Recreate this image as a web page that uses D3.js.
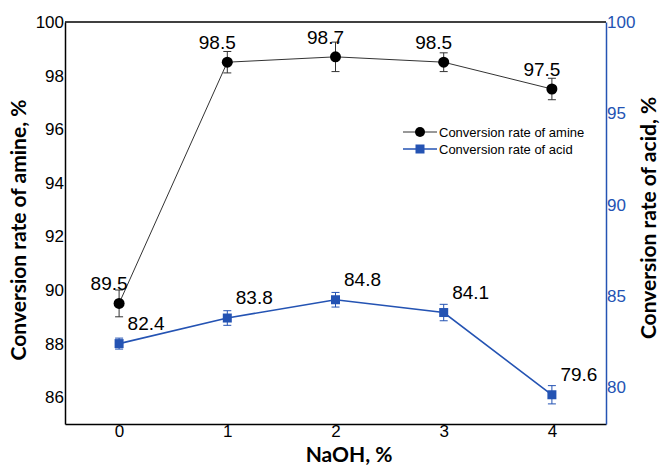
<!DOCTYPE html>
<html>
<head>
<meta charset="UTF-8">
<title></title>
<style>
  body { margin: 0; background: #fff; }
  .tick-lbl { font-family: "Liberation Sans", Arial, sans-serif; font-size: 17px; }
  .val-lbl { font-family: "Liberation Sans", Arial, sans-serif; font-size: 19px; text-anchor: middle; }
  .ax-title { font-family: Lato, "Open Sans", sans-serif; font-weight: 700; font-size: 21px; text-anchor: middle; }
  .leg { font-family: "Liberation Sans", Arial, sans-serif; font-size: 13px; }
</style>
</head>
<body>
<script src="https://cdn.jsdelivr.net/npm/d3@7"></script>
<script>
// data
var naoh = [0, 1, 2, 3, 4];
var amine = [89.5, 98.5, 98.7, 98.5, 97.5];
var amineErr = [0.5, 0.4, 0.55, 0.35, 0.4];
var acid = [82.4, 83.8, 84.8, 84.1, 79.6];
var acidErr = [0.3, 0.4, 0.4, 0.45, 0.5];
var leftTicks = [86, 88, 90, 92, 94, 96, 98, 100];
var rightTicks = [80, 85, 90, 95, 100];

var width = 660, height = 466;
var margin = {left: 65, right: 54, top: 22, bottom: 42};
var blue = "#2453b3";

var svg = d3.select("body").append("svg")
  .attr("width", width).attr("height", height);

var x = d3.scaleLinear().domain([-0.5, 4.5]).range([margin.left, width - margin.right]);
var yL = d3.scaleLinear().domain([85, 100]).range([height - margin.bottom, margin.top]);
var yR = d3.scaleLinear().domain([78, 100]).range([height - margin.bottom, margin.top]);

// axes
var gx = svg.append("g")
  .attr("transform", "translate(0," + (height - margin.bottom) + ")")
  .call(d3.axisBottom(x).tickValues(naoh).tickSize(0).tickPadding(1).tickFormat(d3.format("d")));
gx.select(".domain").attr("stroke", "#000").attr("stroke-width", 1.5);

var gl = svg.append("g")
  .attr("transform", "translate(" + margin.left + ",0)")
  .call(d3.axisLeft(yL).tickValues(leftTicks).tickSize(0).tickPadding(1));
gl.select(".domain").attr("stroke", "#000").attr("stroke-width", 1.5);

var gr = svg.append("g")
  .attr("transform", "translate(" + (width - margin.right) + ",0)")
  .call(d3.axisRight(yR).tickValues(rightTicks).tickSize(0).tickPadding(1));
gr.select(".domain").attr("stroke", blue).attr("stroke-width", 1.5);

svg.selectAll(".tick text").attr("class", "tick-lbl").attr("font-size", null).attr("font-family", null);
gx.selectAll("text").attr("fill", "#000");
gl.selectAll("text").attr("fill", "#000");
gr.selectAll("text").attr("fill", blue);

// top border
svg.append("line")
  .attr("x1", margin.left).attr("x2", width - margin.right)
  .attr("y1", margin.top).attr("y2", margin.top)
  .attr("stroke", "#000").attr("stroke-width", 1.5);

// amine series
var lineL = d3.line().x(function(d, i) { return x(naoh[i]); }).y(function(d) { return yL(d); });
svg.append("path").datum(amine)
  .attr("d", lineL).attr("fill", "none").attr("stroke", "#333").attr("stroke-width", 1);

svg.selectAll(".errL").data(amine).enter().append("path")
  .attr("class", "errL")
  .attr("d", function(d, i) {
    var cx = x(naoh[i]), t = yL(d + amineErr[i]), b = yL(d - amineErr[i]);
    return "M" + cx + "," + t + "V" + b + "M" + (cx - 4) + "," + t + "H" + (cx + 4) + "M" + (cx - 4) + "," + b + "H" + (cx + 4);
  })
  .attr("stroke", "#333").attr("stroke-width", 1).attr("fill", "none");

svg.selectAll(".ptL").data(amine).enter().append("circle")
  .attr("cx", function(d, i) { return x(naoh[i]); })
  .attr("cy", function(d) { return yL(d); })
  .attr("r", 5.5).attr("fill", "#000");

svg.selectAll(".lblL").data(amine).enter().append("text")
  .attr("class", "val-lbl")
  .attr("x", function(d, i) { return x(naoh[i]) - 10; })
  .attr("y", function(d) { return yL(d) - 13; })
  .text(function(d) { return d.toFixed(1); });

// acid series
var lineR = d3.line().x(function(d, i) { return x(naoh[i]); }).y(function(d) { return yR(d); });
svg.append("path").datum(acid)
  .attr("d", lineR).attr("fill", "none").attr("stroke", blue).attr("stroke-width", 1.6);

svg.selectAll(".errR").data(acid).enter().append("path")
  .attr("class", "errR")
  .attr("d", function(d, i) {
    var cx = x(naoh[i]), t = yR(d + acidErr[i]), b = yR(d - acidErr[i]);
    return "M" + cx + "," + t + "V" + b + "M" + (cx - 4) + "," + t + "H" + (cx + 4) + "M" + (cx - 4) + "," + b + "H" + (cx + 4);
  })
  .attr("stroke", blue).attr("stroke-width", 1).attr("fill", "none");

svg.selectAll(".ptR").data(acid).enter().append("rect")
  .attr("x", function(d, i) { return x(naoh[i]) - 4.5; })
  .attr("y", function(d) { return yR(d) - 4.5; })
  .attr("width", 9).attr("height", 9).attr("fill", blue);

svg.selectAll(".lblR").data(acid).enter().append("text")
  .attr("class", "val-lbl")
  .attr("x", function(d, i) { return x(naoh[i]) + 27; })
  .attr("y", function(d) { return yR(d) - 14; })
  .text(function(d) { return d.toFixed(1); });

// legend
var leg = svg.append("g").attr("transform", "translate(403,132)");
leg.append("line").attr("x1", 0).attr("x2", 34).attr("y1", 0).attr("y2", 0).attr("stroke", "#333");
leg.append("circle").attr("cx", 17).attr("cy", 0).attr("r", 5).attr("fill", "#000");
leg.append("text").attr("class", "leg").attr("x", 36).attr("y", 4.5).text("Conversion rate of amine");
leg.append("line").attr("x1", 0).attr("x2", 34).attr("y1", 17).attr("y2", 17).attr("stroke", blue).attr("stroke-width", 1.6);
leg.append("rect").attr("x", 12.5).attr("y", 12.5).attr("width", 9).attr("height", 9).attr("fill", blue);
leg.append("text").attr("class", "leg").attr("x", 36).attr("y", 21.5).text("Conversion rate of acid");

// axis titles
svg.append("text").attr("class", "ax-title")
  .attr("transform", "translate(26,230) rotate(-90)")
  .text("Conversion rate of amine, %");
svg.append("text").attr("class", "ax-title")
  .attr("transform", "translate(656,218) rotate(-90)")
  .text("Conversion rate of acid, %");
svg.append("text").attr("class", "ax-title")
  .attr("x", 349).attr("y", 462)
  .text("NaOH, %");
</script>
</body>
</html>
